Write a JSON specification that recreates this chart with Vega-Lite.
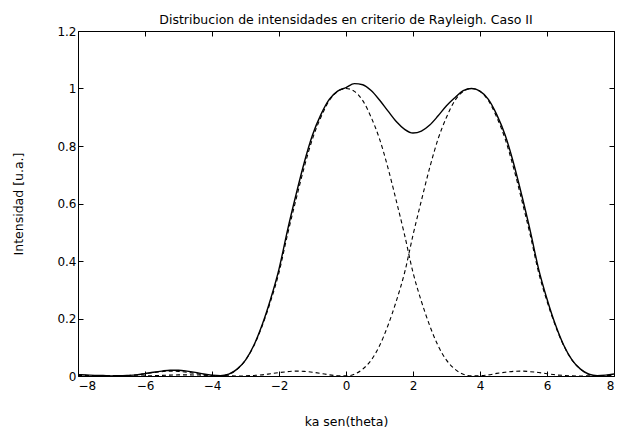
{
  "$schema": "https://vega.github.io/schema/vega-lite/v6.json",
  "width": 536,
  "height": 345,
  "autosize": {"type": "none"},
  "padding": {"left": 78, "top": 31, "right": 13, "bottom": 58},
  "background": "white",
  "config": {
    "font": "DejaVu Sans",
    "view": {"stroke": "black", "strokeWidth": 1},
    "axis": {"grid": false, "domain": false, "tickColor": "black", "labelColor": "black", "titleColor": "black", "labelFontSize": 12, "titleFontSize": 12.5, "titleFontWeight": "normal", "tickSize": -5, "tickWidth": 1}
  },
  "title": {"text": "Distribucion de intensidades en criterio de Rayleigh. Caso II", "fontSize": 12.5, "fontWeight": "normal", "color": "black", "offset": -1},
  "data": {"values": [
    {"x": -8, "izq": 0.003, "der": 0.0015, "suma": 0.0045},
    {"x": -7.75, "izq": 0.002, "der": 0.0015, "suma": 0.0035},
    {"x": -7.5, "izq": 0.001, "der": 0.0013, "suma": 0.0023},
    {"x": -7.25, "izq": 0.0005, "der": 0.001, "suma": 0.0015},
    {"x": -7, "izq": 0, "der": 0.0006, "suma": 0.0006},
    {"x": -6.75, "izq": 0.0005, "der": 0.0002, "suma": 0.0007},
    {"x": -6.5, "izq": 0.002, "der": 0, "suma": 0.002},
    {"x": -6.25, "izq": 0.004, "der": 0.0001, "suma": 0.0041},
    {"x": -6, "izq": 0.008, "der": 0.0004, "suma": 0.0084},
    {"x": -5.75, "izq": 0.012, "der": 0.001, "suma": 0.013},
    {"x": -5.5, "izq": 0.015, "der": 0.002, "suma": 0.017},
    {"x": -5.25, "izq": 0.017, "der": 0.003, "suma": 0.02},
    {"x": -5, "izq": 0.016, "der": 0.0038, "suma": 0.0198},
    {"x": -4.75, "izq": 0.013, "der": 0.004, "suma": 0.017},
    {"x": -4.5, "izq": 0.009, "der": 0.0035, "suma": 0.0125},
    {"x": -4.25, "izq": 0.004, "der": 0.003, "suma": 0.007},
    {"x": -4, "izq": 0.001, "der": 0.002, "suma": 0.003},
    {"x": -3.75, "izq": 0.0003, "der": 0.001, "suma": 0.0013},
    {"x": -3.5, "izq": 0.006, "der": 0.0005, "suma": 0.0065},
    {"x": -3.25, "izq": 0.024, "der": 0, "suma": 0.024},
    {"x": -3, "izq": 0.055, "der": 0.0005, "suma": 0.0555},
    {"x": -2.75, "izq": 0.105, "der": 0.002, "suma": 0.107},
    {"x": -2.5, "izq": 0.175, "der": 0.004, "suma": 0.179},
    {"x": -2.25, "izq": 0.26, "der": 0.008, "suma": 0.268},
    {"x": -2, "izq": 0.36, "der": 0.012, "suma": 0.372},
    {"x": -1.75, "izq": 0.49, "der": 0.015, "suma": 0.505},
    {"x": -1.5, "izq": 0.61, "der": 0.017, "suma": 0.627},
    {"x": -1.25, "izq": 0.725, "der": 0.016, "suma": 0.741},
    {"x": -1, "izq": 0.825, "der": 0.013, "suma": 0.838},
    {"x": -0.75, "izq": 0.9, "der": 0.009, "suma": 0.909},
    {"x": -0.5, "izq": 0.958, "der": 0.004, "suma": 0.962},
    {"x": -0.25, "izq": 0.99, "der": 0.001, "suma": 0.991},
    {"x": 0, "izq": 1.0, "der": 0.0003, "suma": 1.003},
    {"x": 0.25, "izq": 0.99, "der": 0.006, "suma": 1.017},
    {"x": 0.5, "izq": 0.958, "der": 0.024, "suma": 1.013},
    {"x": 0.75, "izq": 0.9, "der": 0.055, "suma": 0.993},
    {"x": 1, "izq": 0.825, "der": 0.105, "suma": 0.96},
    {"x": 1.25, "izq": 0.725, "der": 0.175, "suma": 0.922},
    {"x": 1.5, "izq": 0.61, "der": 0.26, "suma": 0.885},
    {"x": 1.75, "izq": 0.49, "der": 0.36, "suma": 0.858},
    {"x": 2, "izq": 0.36, "der": 0.49, "suma": 0.845},
    {"x": 2.25, "izq": 0.26, "der": 0.61, "suma": 0.852},
    {"x": 2.5, "izq": 0.175, "der": 0.725, "suma": 0.873},
    {"x": 2.75, "izq": 0.105, "der": 0.825, "suma": 0.905},
    {"x": 3, "izq": 0.055, "der": 0.9, "suma": 0.94},
    {"x": 3.25, "izq": 0.024, "der": 0.958, "suma": 0.968},
    {"x": 3.5, "izq": 0.006, "der": 0.99, "suma": 0.993},
    {"x": 3.75, "izq": 0.0003, "der": 1.0, "suma": 1.0},
    {"x": 4, "izq": 0.001, "der": 0.99, "suma": 0.991},
    {"x": 4.25, "izq": 0.004, "der": 0.958, "suma": 0.962},
    {"x": 4.5, "izq": 0.009, "der": 0.9, "suma": 0.909},
    {"x": 4.75, "izq": 0.013, "der": 0.825, "suma": 0.838},
    {"x": 5, "izq": 0.016, "der": 0.725, "suma": 0.741},
    {"x": 5.25, "izq": 0.017, "der": 0.61, "suma": 0.627},
    {"x": 5.5, "izq": 0.015, "der": 0.49, "suma": 0.505},
    {"x": 5.75, "izq": 0.012, "der": 0.36, "suma": 0.372},
    {"x": 6, "izq": 0.008, "der": 0.26, "suma": 0.268},
    {"x": 6.25, "izq": 0.004, "der": 0.175, "suma": 0.179},
    {"x": 6.5, "izq": 0.002, "der": 0.105, "suma": 0.107},
    {"x": 6.75, "izq": 0.0005, "der": 0.055, "suma": 0.0555},
    {"x": 7, "izq": 0, "der": 0.024, "suma": 0.024},
    {"x": 7.25, "izq": 0.0005, "der": 0.006, "suma": 0.0065},
    {"x": 7.5, "izq": 0.001, "der": 0.0003, "suma": 0.0013},
    {"x": 7.75, "izq": 0.002, "der": 0.001, "suma": 0.003},
    {"x": 8, "izq": 0.003, "der": 0.004, "suma": 0.007}
  ]},
  "resolve": {"axis": {"x": "independent", "y": "independent"}},
  "layer": [
    {
      "mark": {"type": "line", "color": "black", "strokeWidth": 1.4, "interpolate": "monotone"},
      "encoding": {
        "x": {"field": "x", "type": "quantitative", "scale": {"domain": [-8, 8], "nice": false},
              "axis": {"orient": "bottom", "values": [-8, -6, -4, -2, 0, 2, 4, 6, 8], "title": "ka sen(theta)", "labelPadding": 9, "titlePadding": 24}},
        "y": {"field": "suma", "type": "quantitative", "scale": {"domain": [0, 1.2], "nice": false, "zero": false},
              "axis": {"orient": "left", "values": [0, 0.2, 0.4, 0.6, 0.8, 1, 1.2], "format": "~g", "title": "Intensidad [u.a.]", "labelPadding": 7, "titlePadding": 31}}
      }
    },
    {
      "mark": {"type": "line", "color": "black", "strokeWidth": 1.1, "strokeDash": [4, 3], "interpolate": "monotone"},
      "encoding": {
        "x": {"field": "x", "type": "quantitative", "axis": {"orient": "top", "values": [-8, -6, -4, -2, 0, 2, 4, 6, 8], "labels": false, "title": null}},
        "y": {"field": "izq", "type": "quantitative", "axis": {"orient": "right", "values": [0, 0.2, 0.4, 0.6, 0.8, 1, 1.2], "labels": false, "title": null}}
      }
    },
    {
      "mark": {"type": "line", "color": "black", "strokeWidth": 1.1, "strokeDash": [4, 3], "interpolate": "monotone"},
      "encoding": {
        "x": {"field": "x", "type": "quantitative", "axis": null},
        "y": {"field": "der", "type": "quantitative", "axis": null}
      }
    }
  ]
}
